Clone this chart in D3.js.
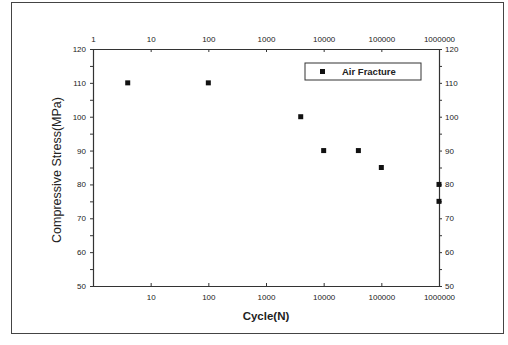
<!DOCTYPE html>
<html>
<head>
<meta charset="utf-8">
<script src="https://cdn.jsdelivr.net/npm/d3@7"></script>
<style>
  body { margin: 0; background: #fff; }
  text { font-family: "Liberation Sans", Arial, sans-serif; fill: #222; }
  .axis path, .axis line { stroke: #333; }
</style>
</head>
<body>
<div id="vis"></div>
<script>
var cycles = [4, 100, 4000, 10000, 40000, 100000, 1000000, 1000000];
var stress = [110, 110, 100, 90, 90, 85, 80, 75];
var xTicks = [1, 10, 100, 1000, 10000, 100000, 1000000];
var yTicks = [50, 60, 70, 80, 90, 100, 110, 120];
var seriesName = "Air Fracture";

var width = 508, height = 345;
var margin = {top: 49, right: 69, bottom: 59, left: 93};
var w = width - margin.left - margin.right;
var h = height - margin.top - margin.bottom;

var svg = d3.select("#vis").append("svg")
  .attr("width", width)
  .attr("height", height);

// outer frame
svg.append("rect")
  .attr("x", 11.5).attr("y", 2.5)
  .attr("width", 492).attr("height", 331)
  .attr("fill", "none").attr("stroke", "#444").attr("stroke-width", 1);

var g = svg.append("g")
  .attr("transform", "translate(" + margin.left + "," + margin.top + ")");

var x = d3.scaleLog().domain([1, 1000000]).range([0, w]);
var y = d3.scaleLinear().domain([50, 120]).range([h, 0]);

var fmt = function(d) { return String(d); };
var yLabel = function(d) { return yTicks.indexOf(d) >= 0 ? d : ""; };
var yAll = d3.range(50, 121, 5);

g.append("g").attr("class", "axis")
  .attr("transform", "translate(0," + h + ")")
  .call(d3.axisBottom(x).tickValues(xTicks.slice(1)).tickFormat(fmt).tickSizeInner(-3).tickSizeOuter(0).tickPadding(8));
g.append("g").attr("class", "axis")
  .call(d3.axisTop(x).tickValues(xTicks).tickFormat(fmt).tickSizeInner(-3).tickSizeOuter(0).tickPadding(7));

g.append("g").attr("class", "axis")
  .call(d3.axisLeft(y).tickValues(yAll).tickFormat(yLabel).tickSize(3).tickPadding(4));
g.append("g").attr("class", "axis")
  .attr("transform", "translate(" + w + ",0)")
  .call(d3.axisRight(y).tickValues(yAll).tickFormat(yLabel).tickSize(3).tickPadding(3));

g.selectAll(".axis text").style("font-size", "8px");
g.selectAll(".axis path").attr("stroke-width", 1.2);

// points
g.selectAll(".pt")
  .data(cycles.map(function(c, i) { return {c: c, s: stress[i]}; }))
  .enter().append("rect")
  .attr("class", "pt")
  .attr("x", function(d) { return x(d.c) - 2.5; })
  .attr("y", function(d) { return y(d.s) - 2.5; })
  .attr("width", 5).attr("height", 5)
  .attr("fill", "#111");

// legend
var lg = g.append("g").attr("transform", "translate(" + (305 - margin.left) + "," + (63 - margin.top) + ")");
lg.append("rect")
  .attr("width", 116).attr("height", 17)
  .attr("fill", "#fff").attr("stroke", "#333");
lg.append("rect")
  .attr("x", 15).attr("y", 6).attr("width", 5).attr("height", 5).attr("fill", "#111");
lg.append("text")
  .attr("x", 37).attr("y", 12)
  .style("font-size", "9.5px").style("font-weight", "bold")
  .text(seriesName);

// axis titles
svg.append("text")
  .attr("x", margin.left + w / 2).attr("y", 320)
  .attr("text-anchor", "middle")
  .style("font-size", "11.5px").style("font-weight", "bold")
  .text("Cycle(N)");

svg.append("text")
  .attr("transform", "translate(61,170) rotate(-90)")
  .attr("text-anchor", "middle")
  .style("font-size", "12.5px")
  .text("Compressive Stress(MPa)");
</script>
</body>
</html>
